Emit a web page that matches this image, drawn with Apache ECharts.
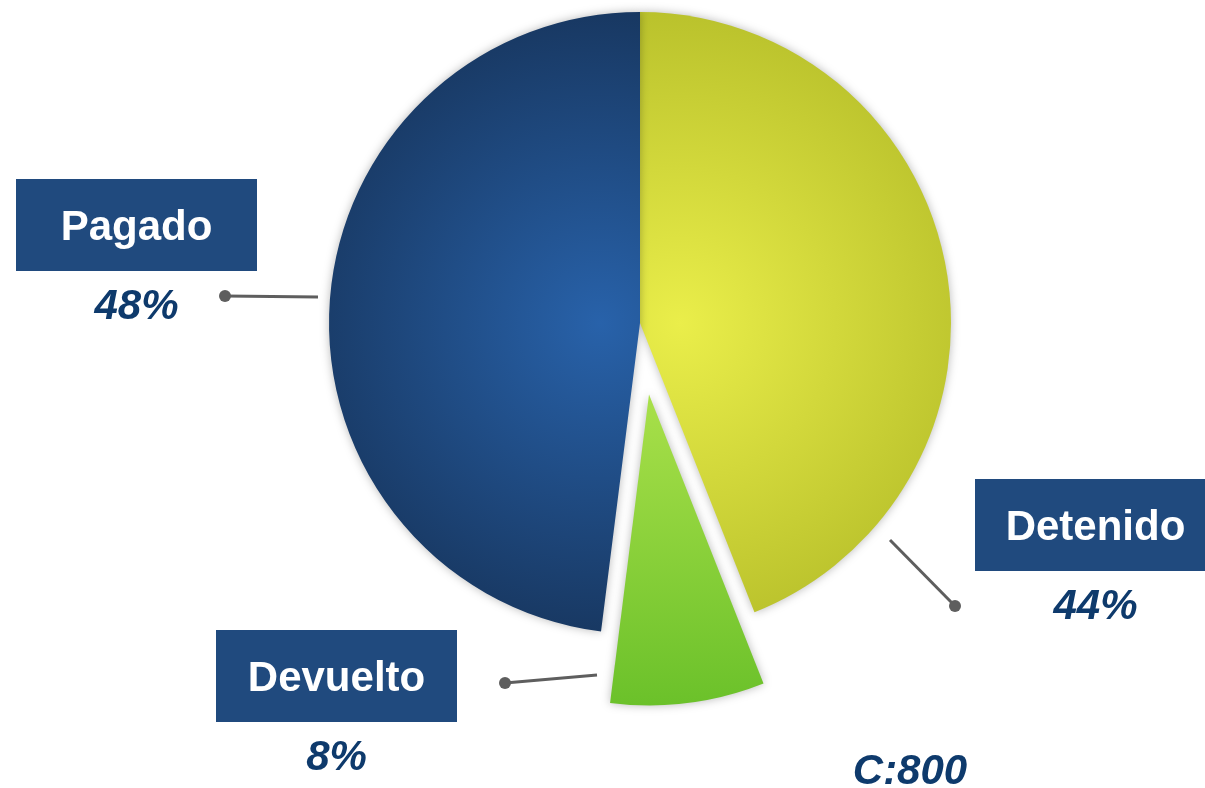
<!DOCTYPE html>
<html>
<head>
<meta charset="utf-8">
<script src="https://cdn.jsdelivr.net/npm/echarts@6/dist/echarts.min.js"></script>
<style>
html,body{margin:0;padding:0;background:#fff;}
#main{width:1205px;height:788px;}
</style>
</head>
<body>
<div id="main"></div>
<script>
// ---- data ----
var categories = ['Detenido', 'Devuelto', 'Pagado'];
var values = [352, 64, 384];
var explodedIndex = 1;

// ---- layout / style (not data) ----
var FONT = '"Liberation Sans", Arial, sans-serif';
var BOX_W = 241, BOX_H = 92;
var labelPos = [[1095.5, 479], [336.5, 630], [136.5, 179]]; // box centre x, box top y
var leaders = [
  [[955, 606], [890, 540]],
  [[505, 683], [597, 675]],
  [[225, 296], [318, 297]]
];
var CX = 640, CY = 323, R = 311;

var fills = [
  {type: 'radial', x: CX + 40, y: CY, r: R, global: true,
   colorStops: [{offset: 0, color: '#eaee4a'}, {offset: 1, color: '#bac22c'}]},
  {type: 'linear', x: 0, y: 0, x2: 0, y2: 1,
   colorStops: [{offset: 0, color: '#a9e04a'}, {offset: 1, color: '#6bc12a'}]},
  {type: 'radial', x: CX - 40, y: CY, r: R, global: true,
   colorStops: [{offset: 0, color: '#2862aa'}, {offset: 1, color: '#183862'}]}
];

var total = values.reduce(function (a, b) { return a + b; }, 0);

var seriesData = categories.map(function (c, i) {
  var st = {color: fills[i], shadowBlur: 10, shadowColor: 'rgba(0,0,0,0.28)'};
  return {
    name: c, value: values[i], selected: i === explodedIndex,
    itemStyle: st, select: {itemStyle: st}, emphasis: {itemStyle: st}
  };
});

var graphics = [];
leaders.forEach(function (l) {
  graphics.push({type: 'line', silent: true,
    shape: {x1: l[0][0], y1: l[0][1], x2: l[1][0], y2: l[1][1]},
    style: {stroke: '#5e5e5e', lineWidth: 3}});
  graphics.push({type: 'circle', silent: true,
    shape: {cx: l[0][0], cy: l[0][1], r: 6},
    style: {fill: '#5e5e5e'}});
});
categories.forEach(function (c, i) {
  var p = labelPos[i];
  graphics.push({type: 'rect', silent: true,
    shape: {x: p[0] - BOX_W / 2, y: p[1], width: BOX_W, height: BOX_H},
    style: {fill: '#204a7e'}});
  graphics.push({type: 'text', silent: true,
    style: {text: c, x: p[0], y: p[1] + BOX_H / 2 + 3, align: 'center', verticalAlign: 'middle',
      fill: '#ffffff', font: 'bold 42px ' + FONT}});
  graphics.push({type: 'text', silent: true,
    style: {text: Math.round(values[i] / total * 100) + '%', x: p[0], y: p[1] + BOX_H + 36,
      align: 'center', verticalAlign: 'middle',
      fill: '#0e3a6c', font: 'italic bold 42px ' + FONT}});
});
graphics.push({type: 'text', silent: true,
  style: {text: 'C:' + total, x: 910, y: 772, align: 'center', verticalAlign: 'middle',
    fill: '#0e3a6c', font: 'italic bold 42px ' + FONT}});

var chart = echarts.init(document.getElementById('main'), null, {renderer: 'canvas'});
chart.setOption({
  animation: false,
  backgroundColor: '#ffffff',
  graphic: graphics,
  series: [{
    type: 'pie',
    center: [CX, CY],
    radius: [0, R],
    startAngle: 90,
    clockwise: true,
    selectedMode: 'single',
    selectedOffset: 72,
    silent: true,
    emphasis: {disabled: true, scale: false},
    label: {show: false},
    labelLine: {show: false},
    data: seriesData
  }]
});
</script>
</body>
</html>
